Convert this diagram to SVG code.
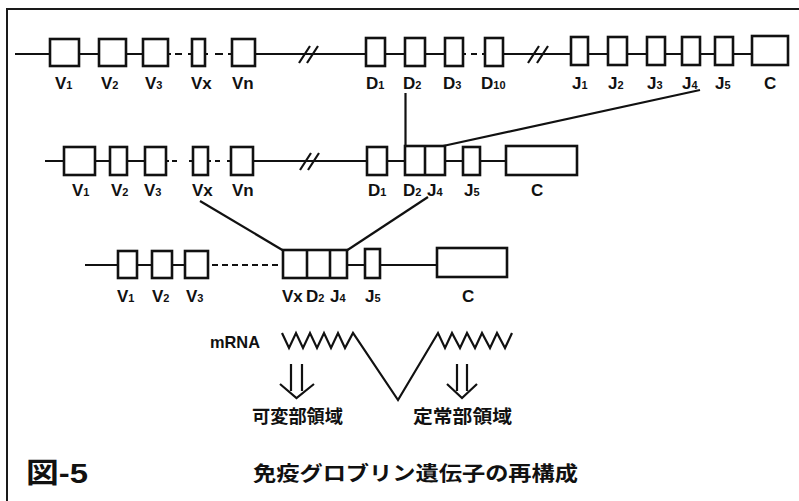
<svg xmlns="http://www.w3.org/2000/svg" width="799" height="501" viewBox="0 0 799 501">
  <defs>
    <style>
      .bg { fill: #ffffff; }
      .frame { fill: none; stroke: #1a1a1a; stroke-width: 2; }
      .seg { fill: #ffffff; stroke: #111111; stroke-width: 2.6; }
      .div { stroke: #111111; stroke-width: 2.6; }
      .dna { fill: none; stroke: #111111; stroke-width: 2.2; }
      .dash { fill: none; stroke: #111111; stroke-width: 2.2; stroke-dasharray: 6 4; }
      .brk { stroke: #111111; stroke-width: 2.2; }
      .link { fill: none; stroke: #111111; stroke-width: 2.2; }
      .lbl { font-family: "Liberation Sans", Arial, sans-serif; font-size: 17px; font-weight: bold; fill: #111111; }
      .sub { font-size: 11px; }
      .jp { font-family: "Noto Sans CJK JP", "Noto Sans CJK SC", sans-serif; font-weight: bold; fill: #111111; }
      .cap { font-family: "Liberation Sans", "Noto Sans CJK JP", sans-serif; font-weight: bold; fill: #111111; }
    </style>
  </defs>

  <rect class="bg" x="0" y="0" width="799" height="501"/>

  <!-- page frame: top rule and left rule -->
  <path class="frame" d="M7,501 V9 H799"/>

  <!-- ===== germline chromosome (row 1) ===== -->
  <g id="row1-backbone">
    <path class="dna" d="M15,54 H50 M79,54 H99 M126,54 H143 M168,54 H171 M175,54 H182 M188,54 H192 M205,54 H208 M215,54 H223 M228,54 H232 M255,54 H366 M385,54 H405 M425,54 H445 M463,54 H466 M471,54 H477 M482,54 H485 M503,54 H571 M588,54 H608 M627,54 H647 M665,54 H682 M700,54 H715 M733,54 H752"/>
    <path class="brk" d="M299,63 L310,46 M307,63 L318,46"/>
    <path class="brk" d="M528,63 L539,46 M537,63 L548,46"/>
  </g>
  <g id="r1-V1"><rect class="seg" x="50" y="39" width="29" height="27"/><text class="lbl" x="55" y="89">V<tspan class="sub">1</tspan></text></g>
  <g id="r1-V2"><rect class="seg" x="99" y="39" width="27" height="27"/><text class="lbl" x="101" y="89">V<tspan class="sub">2</tspan></text></g>
  <g id="r1-V3"><rect class="seg" x="143" y="39" width="25" height="27"/><text class="lbl" x="145" y="89">V<tspan class="sub">3</tspan></text></g>
  <g id="r1-Vx"><rect class="seg" x="192" y="39" width="13" height="27"/><text class="lbl" x="191" y="89">Vx</text></g>
  <g id="r1-Vn"><rect class="seg" x="232" y="39" width="23" height="27"/><text class="lbl" x="232" y="89">Vn</text></g>
  <g id="r1-D1"><rect class="seg" x="366" y="38" width="19" height="28"/><text class="lbl" x="366" y="89">D<tspan class="sub">1</tspan></text></g>
  <g id="r1-D2"><rect class="seg" x="405" y="38" width="20" height="28"/><text class="lbl" x="403" y="89">D<tspan class="sub">2</tspan></text></g>
  <g id="r1-D3"><rect class="seg" x="445" y="38" width="18" height="28"/><text class="lbl" x="443" y="89">D<tspan class="sub">3</tspan></text></g>
  <g id="r1-D10"><rect class="seg" x="485" y="38" width="18" height="28"/><text class="lbl" x="481" y="89">D<tspan class="sub">10</tspan></text></g>
  <g id="r1-J1"><rect class="seg" x="571" y="37" width="17" height="28"/><text class="lbl" x="572" y="89">J<tspan class="sub">1</tspan></text></g>
  <g id="r1-J2"><rect class="seg" x="608" y="37" width="19" height="28"/><text class="lbl" x="608" y="89">J<tspan class="sub">2</tspan></text></g>
  <g id="r1-J3"><rect class="seg" x="647" y="37" width="18" height="28"/><text class="lbl" x="647" y="89">J<tspan class="sub">3</tspan></text></g>
  <g id="r1-J4"><rect class="seg" x="682" y="37" width="18" height="28"/><text class="lbl" x="682" y="89">J<tspan class="sub">4</tspan></text></g>
  <g id="r1-J5"><rect class="seg" x="715" y="37" width="18" height="28"/><text class="lbl" x="715" y="89">J<tspan class="sub">5</tspan></text></g>
  <g id="r1-C"><rect class="seg" x="752" y="36" width="36" height="29"/><text class="lbl" x="764" y="89">C</text></g>

  <!-- ===== after D-J joining (row 2) ===== -->
  <g id="row2-backbone">
    <path class="dna" d="M45,161 H64 M95,161 H110 M127,161 H145 M166,161 H169 M172,161 H177 M189,161 H193 M208,161 H211 M215,161 H220 M227,161 H231 M253,161 H367 M387,161 H405 M445,161 H463 M480,161 H506"/>
    <path class="brk" d="M300,170 L311,153 M308,170 L319,153"/>
  </g>
  <g id="r2-V1"><rect class="seg" x="64" y="147" width="31" height="28"/><text class="lbl" x="72" y="196">V<tspan class="sub">1</tspan></text></g>
  <g id="r2-V2"><rect class="seg" x="110" y="147" width="17" height="28"/><text class="lbl" x="111" y="196">V<tspan class="sub">2</tspan></text></g>
  <g id="r2-V3"><rect class="seg" x="145" y="147" width="21" height="28"/><text class="lbl" x="144" y="196">V<tspan class="sub">3</tspan></text></g>
  <g id="r2-Vx"><rect class="seg" x="193" y="147" width="15" height="28"/><text class="lbl" x="192" y="196">Vx</text></g>
  <g id="r2-Vn"><rect class="seg" x="231" y="147" width="22" height="28"/><text class="lbl" x="232" y="196">Vn</text></g>
  <g id="r2-D1"><rect class="seg" x="367" y="147" width="20" height="28"/><text class="lbl" x="368" y="196">D<tspan class="sub">1</tspan></text></g>
  <g id="r2-D2J4">
    <rect class="seg" x="405" y="146" width="40" height="29"/>
    <line class="div" x1="425" y1="146" x2="425" y2="175"/>
    <text class="lbl" x="403" y="196">D<tspan class="sub">2</tspan></text>
    <text class="lbl" x="427" y="196">J<tspan class="sub">4</tspan></text>
  </g>
  <g id="r2-J5"><rect class="seg" x="463" y="147" width="17" height="28"/><text class="lbl" x="464" y="196">J<tspan class="sub">5</tspan></text></g>
  <g id="r2-C"><rect class="seg" x="506" y="146" width="71" height="29"/><text class="lbl" x="531" y="196">C</text></g>

  <!-- ===== after V-DJ joining (row 3) ===== -->
  <g id="row3-backbone">
    <path class="dna" d="M85,265 H118 M137,265 H152 M172,265 H185 M347,265 H365 M380,265 H437"/>
    <path class="dash" d="M212,265 H283"/>
  </g>
  <g id="r3-V1"><rect class="seg" x="118" y="251" width="19" height="27"/><text class="lbl" x="117" y="302">V<tspan class="sub">1</tspan></text></g>
  <g id="r3-V2"><rect class="seg" x="152" y="251" width="20" height="27"/><text class="lbl" x="152" y="302">V<tspan class="sub">2</tspan></text></g>
  <g id="r3-V3"><rect class="seg" x="185" y="251" width="23" height="27"/><text class="lbl" x="186" y="302">V<tspan class="sub">3</tspan></text></g>
  <g id="r3-VxD2J4">
    <rect class="seg" x="283" y="250" width="64" height="28"/>
    <line class="div" x1="307" y1="250" x2="307" y2="278"/>
    <line class="div" x1="330" y1="250" x2="330" y2="278"/>
    <text class="lbl" x="282" y="302">Vx</text>
    <text class="lbl" x="306" y="302">D<tspan class="sub">2</tspan></text>
    <text class="lbl" x="330" y="302">J<tspan class="sub">4</tspan></text>
  </g>
  <g id="r3-J5"><rect class="seg" x="365" y="249" width="15" height="29"/><text class="lbl" x="365" y="302">J<tspan class="sub">5</tspan></text></g>
  <g id="r3-C"><rect class="seg" x="437" y="248" width="70" height="29"/><text class="lbl" x="462" y="302">C</text></g>

  <!-- recombination connectors -->
  <g id="connectors">
    <line class="link" x1="405.5" y1="93" x2="405.5" y2="147"/>
    <line class="link" x1="700" y1="90" x2="443" y2="146"/>
    <line class="link" x1="200" y1="201" x2="284" y2="251"/>
    <line class="link" x1="428" y1="197" x2="346" y2="251"/>
  </g>

  <!-- ===== transcript ===== -->
  <g id="mrna">
    <text class="lbl" x="210" y="348" font-size="16" textLength="50" lengthAdjust="spacingAndGlyphs">mRNA</text>
    <path class="dna" stroke-width="2.4" stroke-linejoin="miter" d="M282,333 L289,348 L296,333 L303,348 L310,333 L317,348 L324,333 L331,348 L338,333 L345,348 L353,333 L398,400 L438,333 L445,348 L452,333 L460,348 L467,333 L475,348 L482,333 L490,348 L497,333 L505,348 L512,333"/>
  </g>
  <g id="arrow-variable">
    <path class="dna" d="M291,364 V391 M302,364 V391 M280,384 L296.5,398 L314,384"/>
    <text class="jp" x="252" y="423" font-size="18" textLength="91" lengthAdjust="spacingAndGlyphs">可変部領域</text>
  </g>
  <g id="arrow-constant">
    <path class="dna" d="M457,364 V391 M467,364 V391 M447,384 L462,398 L477,384"/>
    <text class="jp" x="413" y="423" font-size="18" textLength="99" lengthAdjust="spacingAndGlyphs">定常部領域</text>
  </g>

  <!-- caption -->
  <text class="cap" x="26" y="483" font-size="28" textLength="62" lengthAdjust="spacingAndGlyphs">図-5</text>
  <text class="jp" x="253" y="481" font-size="20" textLength="325" lengthAdjust="spacingAndGlyphs">免疫グロブリン遺伝子の再構成</text>
</svg>
